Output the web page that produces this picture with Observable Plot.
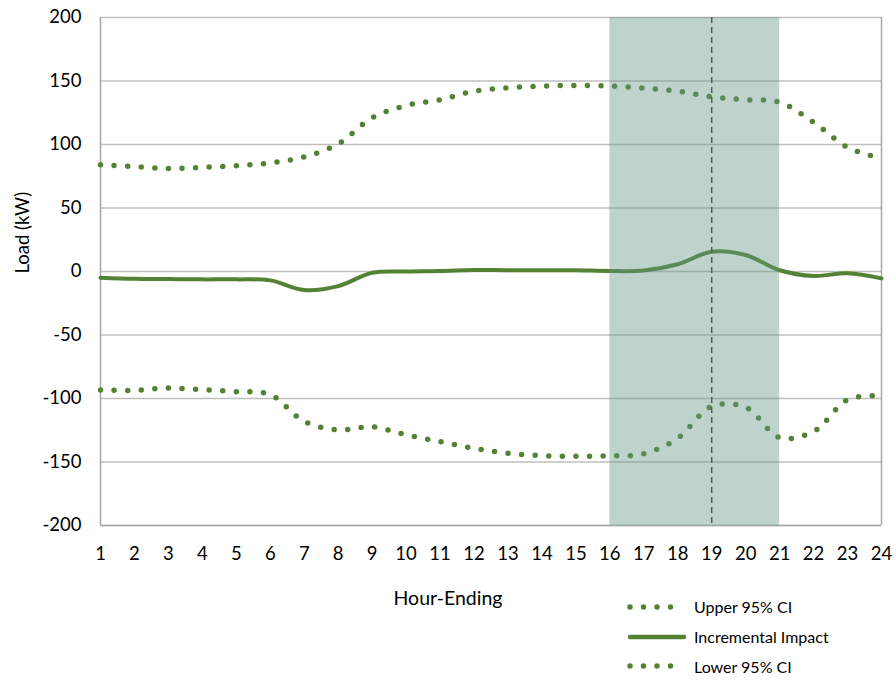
<!DOCTYPE html>
<html>
<head>
<meta charset="utf-8">
<script src="https://cdn.jsdelivr.net/npm/d3@7"></script>
<script src="https://cdn.jsdelivr.net/npm/@observablehq/plot@0.6"></script>
<style>
  html, body { margin: 0; padding: 0; background: #fff; }
  #wrap { position: relative; width: 896px; height: 681px; font-family: Lato, "Open Sans", sans-serif; }
  #legend { position: absolute; left: 626px; top: 592px; font-size: 16px; color: #000; }
  .row { display: flex; align-items: center; height: 29.7px; }
  .row svg { margin-right: 6px; }
</style>
</head>
<body>
<div id="wrap"></div>
<script>
const hours = [1,2,3,4,5,6,7,8,9,10,11,12,13,14,15,16,17,18,19,20,21,22,23,24];
const upperCI = [84.1,82.5,81.2,82,83.3,85.5,90.2,100.5,121,130.7,135.2,142,144.7,146,146.5,146,144.4,142,137.6,135.2,133.3,117.5,97.8,88.9];
const incremental = [-4.9,-5.8,-6,-6.2,-6.2,-7,-14.6,-11.5,-1,0,0.3,1.2,1,1,1,0.4,0.8,5.7,15.6,13,1,-3.5,-1.4,-5.4];
const lowerCI = [-93.3,-93.6,-91.8,-93,-94.6,-97,-118.1,-124.7,-122.3,-128.6,-133.9,-139.2,-143.1,-145,-145.5,-145.2,-143.6,-131.3,-106.2,-107,-130.7,-126,-101,-97.8];
const yTicks = [-200,-150,-100,-50,0,50,100,150,200];
const eventWindow = [16, 21];
const peakHour = [19];
const seriesNames = ["Upper 95% CI", "Incremental Impact", "Lower 95% CI"];
const green = "#548235";

const rows = (vals) => hours.map((h, i) => ({hour: h, value: vals[i]}));
const band = [{start: eventWindow[0], end: eventWindow[1]}];

const chart = Plot.plot({
  width: 896,
  height: 681,
  marginTop: 17,
  marginLeft: 100,
  marginRight: 15,
  marginBottom: 156,
  style: {fontFamily: "Lato, 'Open Sans', sans-serif", fontSize: "18px", color: "#000", background: "#fff"},
  x: {domain: [1, 24], ticks: hours},
  y: {domain: [-200, 200], ticks: yTicks},
  marks: [
    Plot.ruleY(yTicks, {stroke: "#bfbfbf", strokeWidth: 1.3}),
    Plot.ruleX([1, 24], {stroke: "#a6a6a6", strokeWidth: 1.5}),
    Plot.ruleY([-200], {stroke: "#a6a6a6", strokeWidth: 1.5}),
    Plot.line(rows(upperCI), {x: "hour", y: "value", stroke: green, strokeWidth: 5.5, strokeDasharray: "0 13.6", strokeLinecap: "round", curve: "catmull-rom"}),
    Plot.line(rows(lowerCI), {x: "hour", y: "value", stroke: green, strokeWidth: 5.5, strokeDasharray: "0 13.6", strokeLinecap: "round", curve: "catmull-rom"}),
    Plot.line(rows(incremental), {x: "hour", y: "value", stroke: green, strokeWidth: 4, curve: "catmull-rom"}),
    Plot.rectY(band, {x1: "start", x2: "end", y1: () => -200, y2: () => 200, fill: "#679789", fillOpacity: 0.42}),
    Plot.ruleX(peakHour, {stroke: "#595959", strokeWidth: 1.5, strokeDasharray: "6 4"}),
    Plot.axisY({ticks: yTicks, tickSize: 0, tickPadding: 19, fontSize: 18.5, label: null, tickFormat: d => String(d)}),
    Plot.axisX({ticks: hours, tickSize: 0, tickPadding: 21, fontSize: 18.5, label: null, tickFormat: d => String(d)}),
    Plot.text(["Hour-Ending"], {frameAnchor: "bottom", dx: -43, dy: 79, lineAnchor: "bottom", fontSize: 19.5}),
    Plot.text(["Load (kW)"], {frameAnchor: "left", dx: -77, dy: 2, rotate: -90, fontSize: 18.5})
  ]
});
const wrap = document.getElementById("wrap");
wrap.appendChild(chart);

const legend = document.createElement("div");
legend.id = "legend";
seriesNames.forEach((name, i) => {
  const row = document.createElement("div");
  row.className = "row";
  const solid = i === 1;
  row.innerHTML = `<svg width="62" height="10"><line x1="4" y1="5" x2="58" y2="5" stroke="${green}" stroke-width="${solid ? 4.5 : 5.5}" stroke-linecap="round" ${solid ? "" : 'stroke-dasharray="0 13.5"'}/></svg><span>${name}</span>`;
  legend.appendChild(row);
});
wrap.appendChild(legend);
</script>
</body>
</html>
